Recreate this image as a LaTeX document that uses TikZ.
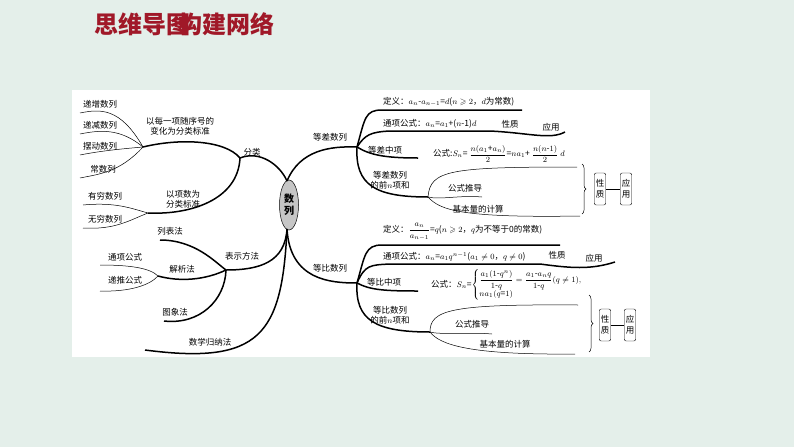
\documentclass[tikz,border=0pt]{standalone}
\usepackage{fontspec}
\usepackage{amsmath,amssymb}
\newfontfamily\cjk{Noto Sans CJK SC}
\usetikzlibrary{decorations.pathreplacing,shapes.geometric}
\definecolor{bgc}{HTML}{E4EFEA}
\definecolor{ttl}{HTML}{A01828}
\tikzset{
 lab/.style={font=\cjk\fontsize{8.5}{10}\selectfont,inner sep=1pt,align=center},
 thk/.style={line width=1.5pt},
 thn/.style={line width=0.5pt},
 sbox/.style={draw,rounded corners=2pt,font=\cjk\fontsize{8.5}{10.5}\selectfont,inner sep=1.5pt,align=center,minimum height=32pt},
 ttlf/.style={font=\cjk\fontsize{24}{26}\selectfont\bfseries,text=ttl,anchor=west,inner sep=0},
}
\begin{document}
\begin{tikzpicture}[x=1pt,y=-1pt]
\fill[bgc] (0,0) rectangle (794,447);
\fill[white] (72,90) rectangle (650,357);
\node[ttlf] (t1) at (94,24) {思维导图};
\node[ttlf] (t2) at (178,24) {构建网络};
% center
\node[draw,ellipse,fill=gray!45,minimum width=19pt,minimum height=50pt,inner sep=0,font=\cjk\fontsize{10}{12}\selectfont\bfseries,align=center,thn] (c) at (289,205) {数\\列};
\coordinate (cT) at (287,181);
\coordinate (cB) at (287,229);
% left: 分类
\coordinate (fl) at (240,158);
\node[lab] (fenlei) at (252,152) {分类};
\draw[thk] (cT) .. controls (280,165) and (260,150) .. (fl);
\coordinate (j1) at (143,147);
\coordinate (j2) at (148,213);
\draw[thk] (fl) .. controls (225,140) and (180,138) .. (j1);
\draw[thk] (fl) .. controls (238,200) and (190,215) .. (j2);
\node[lab] (b1) at (180,126) {以每一项随序号的\\变化为分类标准};
\node[lab] (b2) at (183,199) {以项数为\\分类标准};
\node[lab] (l1) at (100,104) {递增数列};
\node[lab] (l2) at (100,125) {递减数列};
\node[lab] (l3) at (100,146) {摆动数列};
\node[lab] (l4) at (103,169) {常数列};
\foreach \n/\y in {l1/113,l2/134,l3/155,l4/178}{
 \draw[thn] (80,\y) .. controls (100,\y-4) and (120,\y-6) .. (j1);}
\node[lab] (l5) at (105,196) {有穷数列};
\node[lab] (l6) at (105,219) {无穷数列};
\draw[thn] (83,205) .. controls (115,202) and (130,208) .. (j2);
\draw[thn] (83,228) .. controls (115,230) and (130,220) .. (j2);
% 表示方法
\coordinate (bs) at (226,270);
\node[lab] (bsff) at (242,256) {表示方法};
\draw[thk] (cB) .. controls (285,262) and (260,270) .. (bs);
\node[lab] (m1) at (170,231) {列表法};
\draw[thk] (160,240) .. controls (195,240) and (215,262) .. (bs);
\node[lab] (m2) at (182,269) {解析法};
\coordinate (j3) at (158,276);
\draw[thk] (j3) .. controls (180,282) and (205,280) .. (bs);
\node[lab] (m3) at (125,257) {通项公式};
\node[lab] (m4) at (125,280) {递推公式};
\draw[thn] (100,265) .. controls (130,265) and (150,268) .. (j3);
\draw[thn] (100,291) .. controls (130,292) and (150,285) .. (j3);
\node[lab] (m5) at (175,312) {图象法};
\draw[thk] (164,321) .. controls (200,325) and (225,300) .. (bs);
\node[lab] (m6) at (210,342) {数学归纳法};
\draw[thk] (cB) .. controls (282,335) and (260,365) .. (145,350);
% right top 等差数列
\coordinate (dc) at (357,147);
\node[lab] (dcsl) at (330,137) {等差数列};
\draw[thk] (cT) .. controls (300,150) and (330,146) .. (dc);
\node[lab,anchor=west] (d1) at (382,102) {定义：$a_n$-$a_{n-1}$=$d$($n\geqslant2$，$d$为常数)};
\draw[thk] (dc) .. controls (365,118) and (365,110) .. (382,110) -- (522,110);
\node[lab,anchor=west] (d2) at (382,124) {通项公式：$a_n$=$a_1$+($n$-1)$d$};
\node[lab] (d2a) at (510,124) {性质};
\node[lab] (d2b) at (551,127) {应用};
\draw[thk] (dc) .. controls (365,135) and (370,132) .. (390,131) -- (490,131) .. controls (530,133) and (550,140) .. (565,132);
\node[lab] (d3) at (385,150) {等差中项};
\draw[thk] (dc) .. controls (370,155) and (385,158) .. (418,158);
\node[lab,anchor=west] (d4) at (432,154) {公式:$S_n$= $\dfrac{n(a_1\text{+}a_n)}{2}$=$na_1$+ $\dfrac{n(n\text{-}1)}{2}$ $d$};
\coordinate (j4) at (428,197);
\node[lab] (d5) at (390,180) {等差数列\\的前$n$项和};
\draw[thk] (dc) .. controls (355,185) and (375,197) .. (j4);
\draw[thn] (j4) .. controls (430,170) and (450,167) .. (577,167);
\node[lab] (d6) at (465,188) {公式推导};
\draw[thn] (j4) .. controls (440,200) and (460,195) .. (482,197);
\node[lab] (d7) at (478,209) {基本量的计算};
\draw[thn] (j4) .. controls (440,210) and (460,218) .. (580,216);
\draw[thn,decorate,decoration={brace,amplitude=4pt}] (582,164) -- (582,214);
\node[sbox] (p1) at (600,189) {性\\质};
\node[sbox] (p2) at (626,189) {应\\用};
\draw[thn] (p1) -- (p2);
% right bottom 等比数列
\coordinate (db) at (357,283);
\node[lab] (dbsl) at (330,268) {等比数列};
\draw[thk] (cB) .. controls (290,280) and (330,283) .. (db);
\node[lab,anchor=west] (e1) at (382,232) {定义：$\dfrac{a_n}{a_{n-1}}$=$q$($n\geqslant2$，$q$为不等于0的常数)};
\draw[thk] (db) .. controls (365,255) and (365,245) .. (382,245) -- (560,245);
\node[lab,anchor=west] (e2) at (382,257) {通项公式：$a_n$=$a_1q^{n-1}$($a_1\neq0$，$q\neq0$)};
\node[lab] (e2a) at (557,255) {性质};
\node[lab] (e2b) at (594,258) {应用};
\draw[thk] (db) .. controls (365,265) and (370,265) .. (390,264) -- (540,264) .. controls (570,268) and (590,270) .. (615,262);
\node[lab] (e3) at (384,282) {等比中项};
\draw[thk] (db) .. controls (370,290) and (385,291) .. (418,291);
\node[lab,anchor=west] (e4) at (430,285) {公式：$S_n$=$\left\{\begin{array}{@{}l@{}}\dfrac{a_1(1\text{-}q^n)}{1\text{-}q}=\dfrac{a_1\text{-}a_nq}{1\text{-}q}(q\neq1),\\[1pt] na_1(q\text{=}1)\end{array}\right.$};
\coordinate (j5) at (430,332);
\node[lab] (e5) at (390,315) {等比数列\\的前$n$项和};
\draw[thk] (db) .. controls (355,320) and (375,332) .. (j5);
\draw[thn] (j5) .. controls (430,310) and (450,304) .. (578,305);
\node[lab] (e6) at (472,324) {公式推导};
\draw[thn] (j5) .. controls (440,335) and (470,332) .. (492,334);
\node[lab] (e7) at (505,344) {基本量的计算};
\draw[thn] (j5) .. controls (440,345) and (470,355) .. (575,354);
\draw[thn,decorate,decoration={brace,amplitude=4pt}] (589,295) -- (589,352);
\node[sbox] (q1) at (605,325) {性\\质};
\node[sbox] (q2) at (630,325) {应\\用};
\draw[thn] (q1) -- (q2);
\end{tikzpicture}
\end{document}
